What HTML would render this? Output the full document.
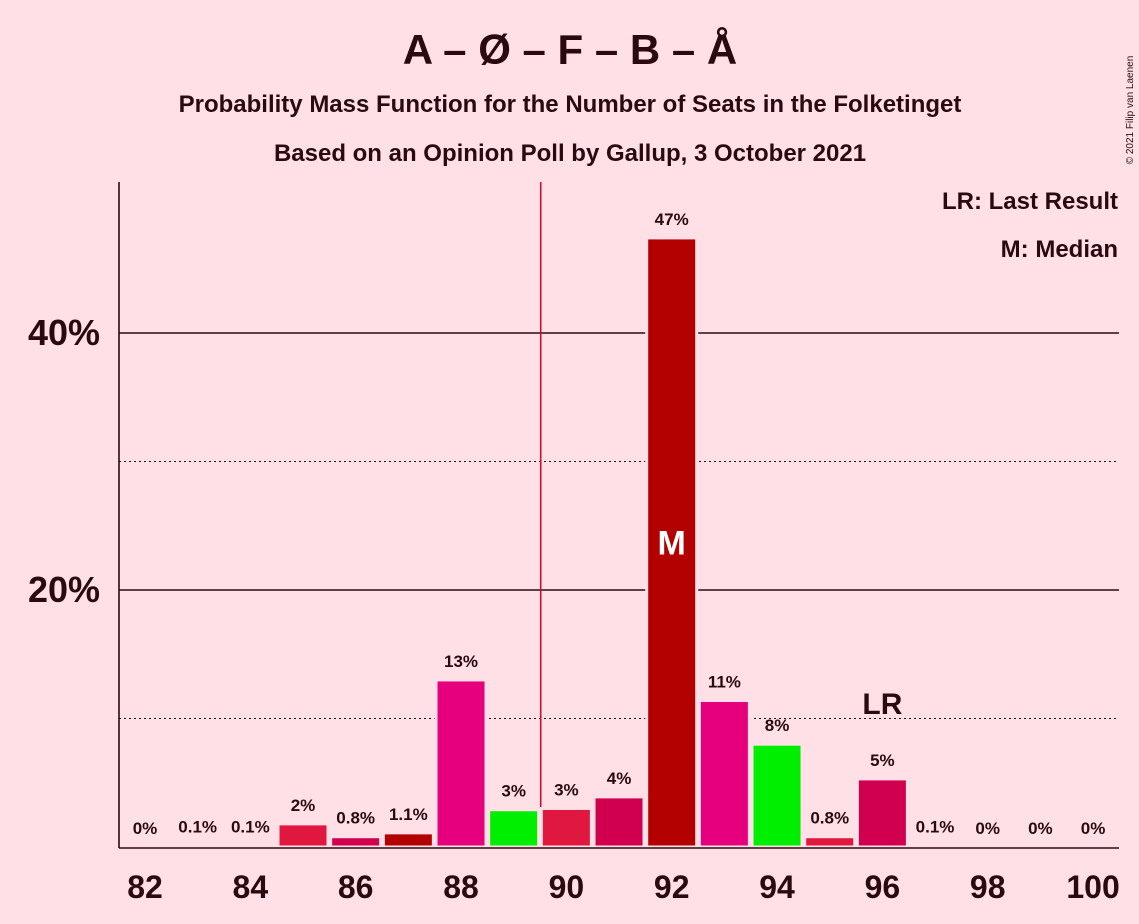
<!DOCTYPE html>
<html><head><meta charset="utf-8"><style>
body{margin:0;background:#FFE0E6;}
svg{display:block;font-family:"Liberation Sans",sans-serif;font-weight:bold;}
</style></head><body>
<svg id="c" width="1139" height="924">
<rect width="1139" height="924" fill="#FFE0E6"/>
<text x="570" y="64" text-anchor="middle" font-size="42" fill="#2a0a10">A – Ø – F – B – Å</text>
<text x="570" y="112" text-anchor="middle" font-size="24" fill="#2a0a10">Probability Mass Function for the Number of Seats in the Folketinget</text>
<text x="570" y="161" text-anchor="middle" font-size="24" fill="#2a0a10">Based on an Opinion Poll by Gallup, 3 October 2021</text>
<text x="1133" y="110" font-size="10" font-weight="normal" fill="#2a0a10" transform="rotate(-90 1133 110)" text-anchor="middle">© 2021 Filip van Laenen</text>
<text x="1118" y="209" text-anchor="end" font-size="24" fill="#2a0a10">LR: Last Result</text>
<text x="1118" y="257" text-anchor="end" font-size="24" fill="#2a0a10">M: Median</text>
<g id="grid"></g><g id="bars"></g><g id="labels"></g>
</svg>
<script>
const seats=[82,83,84,85,86,87,88,89,90,91,92,93,94,95,96,97,98,99,100];
const probs=[0,0.1,0.1,1.8,0.8,1.1,13,2.9,3.0,3.9,47.4,11.4,8.0,0.8,5.3,0.1,0,0,0];
const labels=["0%","0.1%","0.1%","2%","0.8%","1.1%","13%","3%","3%","4%","47%","11%","8%","0.8%","5%","0.1%","0%","0%","0%"];
const palette=["#E0173F","#D1004F","#B30000","#E6007E","#00EE00"];
const yTicks=[10,20,30,40];
const xTicks=[82,84,86,88,90,92,94,96,98,100];
const medianSeat=92, lastResult=96;
const NS="http://www.w3.org/2000/svg";
const x=s=>145+(s-82)*52.67, y=v=>847-v*12.85;
function mk(t,a,p){const e=document.createElementNS(NS,t);for(const k in a)e.setAttribute(k,a[k]);document.getElementById(p).appendChild(e);return e;}
yTicks.forEach(v=>{
 const l=mk('line',{x1:119,x2:1119,y1:y(v),y2:y(v),stroke:'#2a0a10','stroke-width':v%20?1:1.6,'stroke-dasharray':v%20?'2,3':'none'},'grid');
 
 
 if(v%20==0){const t=mk('text',{x:100,y:y(v)+12,'text-anchor':'end','font-size':36,fill:'#2a0a10'},'grid');t.textContent=v+'%';
 
 }
});
seats.forEach((s,i)=>{
 const h=probs[i]*12.85;
 const r=mk('rect',{x:x(s)-25,y:847-h,width:50,height:h,fill:palette[(s-85+100)%5],stroke:'#FFE0E6','stroke-width':h>0?3:0},'bars');
 
 
 const t=mk('text',{x:x(s),y:847-h-13,'text-anchor':'middle','font-size':17,fill:'#2a0a10'},'labels');t.textContent=labels[i];
 
 
 if(s==medianSeat){const m=mk('text',{x:x(s),y:y(probs[i]/2)+12,'text-anchor':'middle','font-size':34,fill:'#fff'},'labels');m.textContent='M';
 
 }
 if(s==lastResult){const m=mk('text',{x:x(s),y:847-h-65,'text-anchor':'middle','font-size':30,fill:'#2a0a10'},'labels');m.textContent='LR';
 
 }
});
const ml=mk('line',{x1:x(medianSeat)-131,x2:x(medianSeat)-131,y1:182,y2:847,stroke:'#C8102E','stroke-width':1.6},'grid');


const ya=mk('line',{x1:119,x2:119,y1:182,y2:848,stroke:'#2a0a10','stroke-width':1.6},'labels');


const xa=mk('line',{x1:119,x2:1119,y1:848,y2:848,stroke:'#2a0a10','stroke-width':1.6},'labels');


xTicks.forEach(s=>{const t=mk('text',{x:x(s),y:898,'text-anchor':'middle','font-size':32,fill:'#2a0a10'},'labels');t.textContent=s;
 
 });
</script>
</body></html>
